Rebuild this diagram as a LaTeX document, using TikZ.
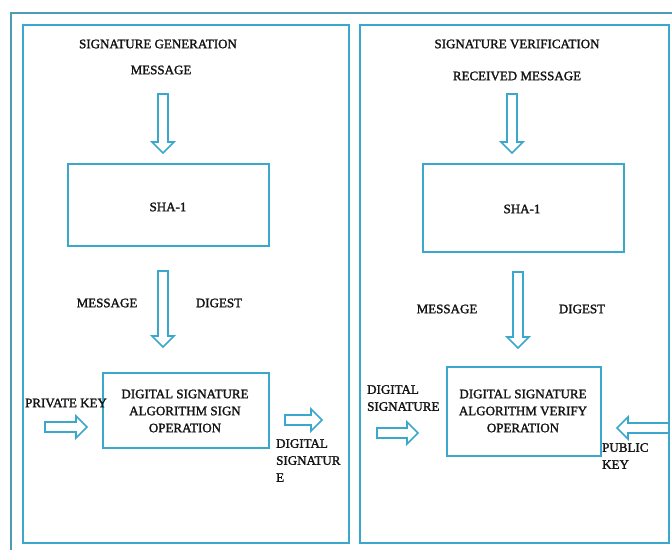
\documentclass[tikz,border=0pt]{standalone}
\usepackage{fontspec}
\setmainfont{Liberation Serif}
\newfontfamily\lblfont{Liberation Serif}[BoldFont={Liberation Serif}, BoldFeatures={FakeBold=1.6}]
\definecolor{framec}{RGB}{78,155,178}
\definecolor{boxc}{RGB}{58,168,204}
\definecolor{txtc}{RGB}{20,20,20}
\tikzset{
  panel/.style={draw=boxc, line width=2pt},
  barrow/.style={draw=boxc, line width=1.6pt, fill=white, line join=miter},
  lbl/.style={text=txtc, font=\lblfont\bfseries\fontsize{13}{17}\selectfont, inner sep=0pt, align=center},
  lbll/.style={text=txtc, font=\lblfont\bfseries\fontsize{13}{17}\selectfont, inner sep=0pt, align=left, anchor=north west},
}
\newcommand\blkdown[3]{\draw[barrow] ({#1-5},#2) -- ({#1+5},#2) -- ({#1+5},{#3-11}) -- ({#1+11},{#3-11}) -- (#1,#3) -- ({#1-11},{#3-11}) -- ({#1-5},{#3-11}) -- cycle;}
\newcommand\blkright[3]{\draw[barrow] (#2,{#1-5}) -- ({#3-11},{#1-5}) -- ({#3-11},{#1-11}) -- (#3,#1) -- ({#3-11},{#1+11}) -- ({#3-11},{#1+5}) -- (#2,{#1+5}) -- cycle;}
\newcommand\blkleft[3]{\draw[barrow] (#2,{#1-5}) -- ({#3+11},{#1-5}) -- ({#3+11},{#1-11}) -- (#3,#1) -- ({#3+11},{#1+11}) -- ({#3+11},{#1+5}) -- (#2,{#1+5}) -- cycle;}
\begin{document}
\begin{tikzpicture}[x=1pt,y=-1pt]
\useasboundingbox (0,0) rectangle (672,549);
\fill[white] (0,0) rectangle (672,549);
% outer frame (runs past right and bottom edges)
\draw[draw=framec, line width=2pt] (11,570) -- (11,13) -- (690,13);
% panels
\draw[panel] (23,25) rectangle (349,543);
\draw[panel] (360,25) rectangle (669,543);

% ---- left panel: signature generation
\node[lbl] (gentitle) at (158,44) {SIGNATURE GENERATION};
\node[lbl] (genmsg) at (161,70) {MESSAGE};
\node[panel, minimum width=201pt, minimum height=82pt, inner sep=0pt] (sha1) at (168.5,205) {};
\node[lbl] (sha1t) at (168,207) {SHA-1};
\node[lbl] (gmd1) at (107,303) {MESSAGE};
\node[lbl] (gmd2) at (219,303) {DIGEST};
\node[panel, minimum width=166pt, minimum height=75pt, inner sep=0pt] (dsasign) at (186,410.5) {};
\node[lbl] (dsasignt) at (185,411) {DIGITAL SIGNATURE\\ALGORITHM SIGN\\OPERATION};
\node[lbl] (privkey) at (66,403) {PRIVATE KEY};
\node[lbll] (digsigout) at (276,439) {DIGITAL\\SIGNATUR\\E};
\blkdown{163}{94}{153}
\blkdown{163}{271}{347}
\blkright{427}{45}{87}
\blkright{420}{285}{322}

% ---- right panel: signature verification
\node[lbl] (vertitle) at (517,44) {SIGNATURE VERIFICATION};
\node[lbl] (recmsg) at (517,76) {RECEIVED MESSAGE};
\node[panel, minimum width=201pt, minimum height=88pt, inner sep=0pt] (sha2) at (523.5,208) {};
\node[lbl] (sha2t) at (522,209) {SHA-1};
\node[lbl] (vmd1) at (447,309) {MESSAGE};
\node[lbl] (vmd2) at (582,309) {DIGEST};
\node[panel, minimum width=154pt, minimum height=89pt, inner sep=0pt] (dsaver) at (524,411.5) {};
\node[lbl] (dsavert) at (523,411) {DIGITAL SIGNATURE\\ALGORITHM VERIFY\\OPERATION};
\node[lbll] (digsigin) at (367,385) {DIGITAL\\SIGNATURE};
\node[lbll] (pubkey) at (602,443) {PUBLIC\\KEY};
\blkdown{512}{94}{153}
\blkdown{518}{272}{348}
\blkright{433}{377}{418}
\blkleft{428}{669}{617}
\end{tikzpicture}
\end{document}
